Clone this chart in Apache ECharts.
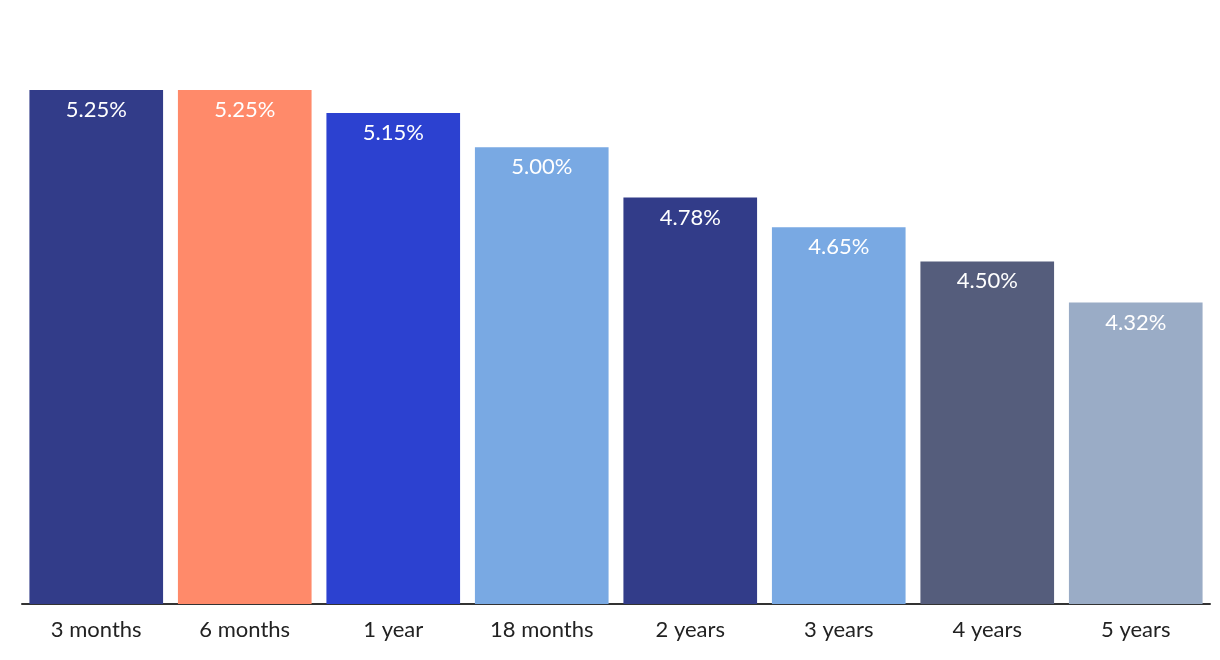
<!DOCTYPE html>
<html>
<head>
<meta charset="utf-8">
<script src="https://cdn.jsdelivr.net/npm/echarts@6/dist/echarts.min.js"></script>
<style>
html,body{margin:0;padding:0;background:#fff;}
#chart{width:1220px;height:660px;}
</style>
</head>
<body>
<div id="chart"></div>
<script>
const categories = ["3 months","6 months","1 year","18 months","2 years","3 years","4 years","5 years"];
const rates = [5.25, 5.25, 5.15, 5.00, 4.78, 4.65, 4.50, 4.32];
const barColors = ["#323c89","#ff8a6a","#2c41d0","#79a9e3","#323c89","#79a9e3","#555d7c","#9aacc6"];

const chart = echarts.init(document.getElementById('chart'));
chart.setOption({
  animation: false,
  grid: {left: 22, right: 10, top: 33, bottom: 56},
  xAxis: {
    type: 'category',
    data: categories,
    axisLine: {lineStyle: {color: '#333333', width: 2}},
    axisTick: {show: false},
    axisLabel: {color: '#222222', fontSize: 22, fontFamily: 'Lato', margin: 15}
  },
  yAxis: {
    type: 'value',
    min: 3,
    max: 5.5,
    show: false,
    splitLine: {show: false}
  },
  series: [{
    type: 'bar',
    data: rates.map((v, i) => ({value: v, itemStyle: {color: barColors[i]}})),
    barCategoryGap: '10%',
    label: {
      show: true,
      position: 'insideTop',
      distance: 9,
      color: '#ffffff',
      fontSize: 22,
      fontFamily: 'Lato',
      formatter: p => p.value.toFixed(2) + '%'
    }
  }]
});
</script>
</body>
</html>
